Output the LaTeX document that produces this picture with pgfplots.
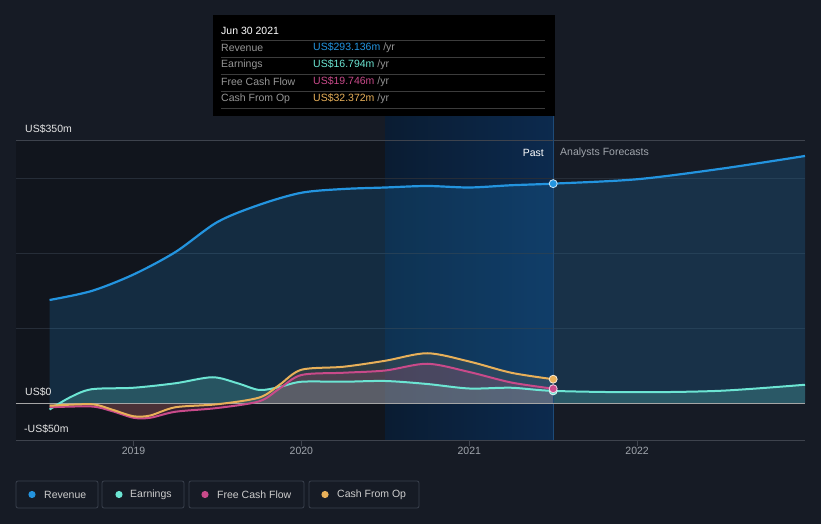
\documentclass[border=0pt]{standalone}
\usepackage{pgfplots}
\pgfplotsset{compat=1.18}
\usepackage{fontspec}
\setmainfont{Liberation Sans}
\definecolor{bg}{RGB}{22,27,37}
\definecolor{darkreg}{RGB}{17,21,29}
\definecolor{bandL}{RGB}{10,28,50}
\definecolor{bandR}{RGB}{12,42,78}
\definecolor{bandline}{RGB}{30,75,120}
\definecolor{gridc}{RGB}{38,45,56}
\definecolor{topc}{RGB}{62,67,77}
\definecolor{zeroc}{RGB}{165,165,165}
\definecolor{tickc}{RGB}{160,165,172}
\definecolor{revc}{RGB}{35,148,223}
\definecolor{earnc}{RGB}{108,229,211}
\definecolor{fcfc}{RGB}{201,74,138}
\definecolor{cfoc}{RGB}{232,176,89}
\definecolor{tipgrey}{RGB}{150,150,150}
\definecolor{tipline}{RGB}{60,60,60}
\definecolor{legbox}{RGB}{58,65,77}
\definecolor{legtext}{RGB}{205,205,205}
\pgfplotstableread{
x y
2018.5 138
2018.75 150
2019 172
2019.25 202
2019.5 242
2019.75 265
2020 281
2020.25 286
2020.5 288
2020.75 290
2021 288
2021.25 291
2021.5 293.136
2022 299
2022.5 313
2023 330
}\revtab
\pgfplotstableread{
x y
2018.5 -8
2018.62 8
2018.75 19
2019 21
2019.25 27
2019.47 35
2019.62 27
2019.75 18
2019.87 22
2020 29
2020.25 29
2020.5 30
2020.75 26
2021 20
2021.25 21
2021.5 16.794
2022 15
2022.5 17
2023 25
}\earntab
\pgfplotstableread{
x y
2018.5 -5
2018.75 -4
2018.87 -10
2019 -19
2019.1 -19
2019.25 -11
2019.5 -6
2019.75 3
2019.87 20
2020 38
2020.25 41
2020.5 44
2020.75 53
2021 42
2021.25 28
2021.5 19.746
}\fcftab
\pgfplotstableread{
x y
2018.5 -3
2018.75 -1
2018.87 -8
2019 -17
2019.1 -16
2019.25 -5
2019.5 -1
2019.75 8
2019.87 25
2020 45
2020.25 49
2020.5 57
2020.75 67
2021 56
2021.25 41
2021.5 32.372
}\cfotab
\begin{document}
\begin{tikzpicture}[x=1pt,y=1pt,every node/.style={font=\fontsize{10.5}{12}\selectfont,inner sep=0pt}]
\fill[bg] (0,0) rectangle (821,524);
% background regions
\fill[darkreg] (16,83) rectangle (385.3,383);
\shade[left color=bandL, right color=bandR] (385.3,83) rectangle (553.2,408);
\begin{axis}[at={(16pt,83pt)}, anchor=south west, scale only axis,
  width=789pt, height=300pt,
  xmin=2018.3, xmax=2023.0, ymin=-50, ymax=350,
  axis line style={draw=none},
  xtick={2019,2020,2021,2022}, xticklabels={2019,2020,2021,2022},
  xtick pos=bottom, tick align=outside, major tick length=5pt,
  xtick style={draw=topc, line width=0.8pt},
  x tick label style={font=\fontsize{10.5}{12}\selectfont, text=tickc, yshift=-1pt},
  ytick={100,200,300}, yticklabels={}, ytick style={draw=none},
  ymajorgrids, grid style={gridc, line width=1pt},
  clip=false]
% fills
\addplot[draw=none, fill=revc, fill opacity=0.19, smooth, tension=0.5, forget plot] table {\revtab} -- (axis cs:2023,0) -- (axis cs:2018.5,0) -- cycle;
\addplot[draw=none, fill=earnc, fill opacity=0.22, smooth, tension=0.5, forget plot] table {\earntab} -- (axis cs:2023,0) -- (axis cs:2018.5,0) -- cycle;
\addplot[draw=none, fill=fcfc, fill opacity=0.2, smooth, tension=0.5, forget plot] table {\fcftab} -- (axis cs:2021.5,0) -- (axis cs:2018.5,0) -- cycle;
\addplot[draw=none, fill=cfoc, fill opacity=0.12, smooth, tension=0.5, forget plot] table {\cfotab} -- (axis cs:2021.5,0) -- (axis cs:2018.5,0) -- cycle;
% zero and top lines
\draw[bandline, line width=1pt] (axis cs:2021.5,-50) -- (axis cs:2021.5,350);
\draw[zeroc, line width=1.5pt] (axis cs:2018.3,0) -- (axis cs:2023,0);
\draw[topc, line width=1pt] (axis cs:2018.3,350) -- (axis cs:2023,350);
\draw[topc, line width=1pt] (axis cs:2018.3,-50) -- (axis cs:2023,-50);
% lines
\addplot[earnc, line width=2pt, smooth, tension=0.5] table {\earntab};
\addplot[fcfc, line width=2pt, smooth, tension=0.5] table {\fcftab};
\addplot[cfoc, line width=2pt, smooth, tension=0.5] table {\cfotab};
\addplot[revc, line width=2.2pt, smooth, tension=0.5] table {\revtab};
% markers
\addplot[only marks, mark=*, mark size=4pt, mark options={fill=revc, draw=white!75!revc, line width=0.8pt}] coordinates {(2021.5,293.136)};
\addplot[only marks, mark=*, mark size=4pt, mark options={fill=earnc, draw=white!75!earnc, line width=0.8pt}] coordinates {(2021.5,16.794)};
\addplot[only marks, mark=*, mark size=4pt, mark options={fill=fcfc, draw=white!75!fcfc, line width=0.8pt}] coordinates {(2021.5,19.746)};
\addplot[only marks, mark=*, mark size=4pt, mark options={fill=cfoc, draw=white!75!cfoc, line width=0.8pt}] coordinates {(2021.5,32.372)};
\end{axis}
\draw[bandline, line width=1pt] (553.2,383) -- (553.2,408);
% y labels
\node[anchor=west, text=white!90!black] at (25,395) {US\$350m};
\node[anchor=west, text=white!90!black] at (25,132) {US\$0};
\node[anchor=west, text=white!90!black] at (24,95) {-US\$50m};
\node[anchor=east, text=white] at (544,371) {Past};
\node[anchor=west, text=tickc] at (560,371) {Analysts Forecasts};
% tooltip
\fill[black] (213,509) rectangle (555,408);
\node[anchor=west, text=white] at (221,493) {Jun 30 2021};
\foreach \yy in {484,467,450,433,416} {\draw[tipline, line width=0.8pt] (221,\yy) -- (545,\yy);}
\node[anchor=west, text=tipgrey] at (221,476) {Revenue};
\node[anchor=west, text=tipgrey] at (221,459) {Earnings};
\node[anchor=west, text=tipgrey] at (221,442) {Free Cash Flow};
\node[anchor=west, text=tipgrey] at (221,425) {Cash From Op};
\node[anchor=west] at (313,476) {\textcolor{revc}{US\$293.136m} \textcolor{tipgrey}{/yr}};
\node[anchor=west] at (313,459) {\textcolor{earnc}{US\$16.794m} \textcolor{tipgrey}{/yr}};
\node[anchor=west] at (313,442) {\textcolor{fcfc}{US\$19.746m} \textcolor{tipgrey}{/yr}};
\node[anchor=west] at (313,425) {\textcolor{cfoc}{US\$32.372m} \textcolor{tipgrey}{/yr}};
% legend
\draw[legbox, rounded corners=2pt, line width=0.8pt] (16,16) rectangle (98,43);
\draw[legbox, rounded corners=2pt, line width=0.8pt] (102,16) rectangle (184,43);
\draw[legbox, rounded corners=2pt, line width=0.8pt] (189,16) rectangle (304,43);
\draw[legbox, rounded corners=2pt, line width=0.8pt] (309,16) rectangle (419,43);
\fill[revc] (32,29.5) circle (3.6);
\fill[earnc] (119,29.5) circle (3.6);
\fill[fcfc] (205,29.5) circle (3.6);
\fill[cfoc] (325,29.5) circle (3.6);
\node[anchor=west, text=legtext] at (44,29.5) {Revenue};
\node[anchor=west, text=legtext] at (130,29.5) {Earnings};
\node[anchor=west, text=legtext] at (217,29.5) {Free Cash Flow};
\node[anchor=west, text=legtext] at (337,29.5) {Cash From Op};
\end{tikzpicture}
\end{document}
